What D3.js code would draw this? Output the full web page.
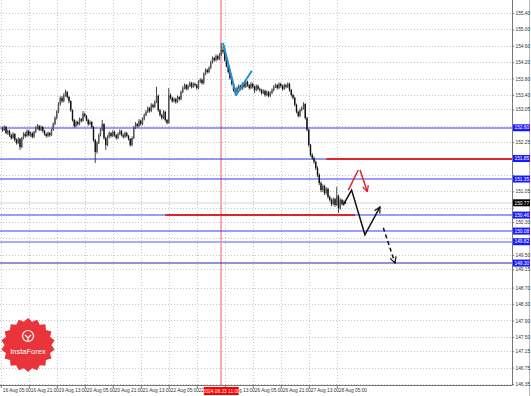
<!DOCTYPE html>
<html>
<head>
<meta charset="utf-8">
<script src="https://cdn.jsdelivr.net/npm/d3@7"></script>
<style>
  body { margin: 0; background: #fff; }
  svg { display: block; }
  text { font-family: "Liberation Sans", Arial, sans-serif; }
</style>
</head>
<body>
<div id="chart"></div>
<script>
// H1 bars, 16 Aug 06:00 .. 28 Aug
const opens = [152.58,152.55,152.62,152.47,152.52,152.42,152.35,152.45,152.30,152.23,
  152.33,152.13,152.35,152.45,152.40,152.52,152.42,152.47,152.38,152.50,
  152.60,152.64,152.55,152.62,152.52,152.45,152.40,152.47,152.42,152.55,
  152.69,152.84,152.99,153.18,153.33,153.25,153.40,153.47,153.35,153.25,
  153.03,152.79,152.64,152.74,152.69,152.81,152.77,152.94,152.89,152.79,
  152.69,152.74,152.62,152.30,152.01,152.23,152.42,152.55,152.69,152.35,
  152.18,152.38,152.47,152.40,152.50,152.42,152.35,152.45,152.52,152.42,
  152.38,152.47,152.40,152.33,152.18,152.35,152.60,152.69,152.64,152.77,
  152.69,152.81,152.91,152.99,153.08,153.01,153.16,153.11,153.23,153.38,
  153.03,152.91,152.84,152.99,152.79,152.72,153.40,153.33,153.25,153.30,
  153.23,153.35,153.30,153.47,153.57,153.64,153.55,153.62,153.69,153.60,
  153.67,153.64,153.57,153.72,153.77,153.69,153.91,154.01,153.96,154.06,
  154.20,154.30,154.25,154.35,154.28,154.38,154.50,154.45,154.25,154.11,
  153.96,153.81,153.67,153.52,153.45,153.57,153.62,153.55,153.67,153.60,
  153.72,153.64,153.57,153.67,153.60,153.52,153.62,153.55,153.52,153.45,
  153.50,153.40,153.47,153.38,153.45,153.52,153.60,153.64,153.57,153.67,
  153.62,153.55,153.64,153.60,153.67,153.52,153.40,153.33,153.16,152.99,
  152.89,153.03,153.08,153.18,152.84,152.55,152.18,151.94,151.86,151.77,
  151.62,151.45,151.25,151.08,151.18,151.01,151.11,150.91,150.84,150.74,
  150.86,150.72,150.94,150.64,150.84,150.74,150.79];
const highs = [152.63,152.66,152.65,152.56,152.55,152.46,152.49,152.47,152.34,152.37,
  152.35,152.38,152.49,152.50,152.56,152.55,152.51,152.50,152.53,152.64,
  152.69,152.67,152.66,152.64,152.55,152.48,152.51,152.50,152.58,152.73,
  152.88,153.03,153.22,153.37,153.38,153.44,153.53,153.50,153.38,153.27,
  153.05,152.82,152.78,152.77,152.85,152.84,153.01,152.97,152.91,152.82,
  152.78,152.76,152.64,152.33,152.27,152.46,152.59,152.79,152.71,152.38,
  152.42,152.51,152.50,152.54,152.53,152.45,152.49,152.56,152.55,152.46,
  152.51,152.50,152.43,152.35,152.39,152.64,152.74,152.72,152.81,152.80,
  152.85,152.95,153.03,153.12,153.11,153.20,153.19,153.27,153.60,153.41,
  153.06,152.94,153.03,153.01,152.82,153.57,153.44,153.36,153.34,153.33,
  153.39,153.38,153.51,153.61,153.68,153.67,153.66,153.73,153.72,153.71,
  153.70,153.67,153.76,153.81,153.80,153.95,154.05,154.04,154.10,154.24,
  154.34,154.33,154.39,154.38,154.42,154.67,154.58,154.48,154.28,154.14,
  153.99,153.84,153.70,153.56,153.61,153.66,153.65,153.71,153.70,153.76,
  153.75,153.67,153.71,153.70,153.63,153.66,153.65,153.58,153.55,153.54,
  153.53,153.51,153.50,153.49,153.56,153.64,153.68,153.67,153.71,153.70,
  153.65,153.68,153.67,153.71,153.70,153.55,153.43,153.36,153.19,153.02,
  153.07,153.12,153.22,153.20,152.87,152.58,152.21,151.98,151.90,151.80,
  151.66,151.49,151.29,151.22,151.21,151.15,151.14,150.95,150.88,150.90,
  150.89,151.16,150.97,150.88,150.87,150.83,150.82];
const lows = [152.50,152.52,152.44,152.43,152.38,152.31,152.33,152.26,152.19,152.20,
  152.06,152.10,152.32,152.36,152.37,152.39,152.38,152.34,152.35,152.47,
  152.56,152.52,152.52,152.48,152.41,152.36,152.37,152.38,152.40,152.52,
  152.66,152.80,152.96,153.14,153.21,153.22,153.36,153.31,153.20,152.99,
  152.75,152.60,152.61,152.65,152.66,152.73,152.75,152.85,152.75,152.65,
  152.66,152.58,152.26,151.74,151.97,152.20,152.39,152.52,152.31,152.06,
  152.15,152.34,152.36,152.37,152.38,152.31,152.32,152.42,152.39,152.34,
  152.35,152.37,152.29,152.14,152.15,152.32,152.57,152.60,152.61,152.65,
  152.66,152.78,152.88,152.96,152.97,152.98,153.07,153.08,153.20,152.99,
  152.87,152.80,152.81,152.75,152.68,152.70,153.29,153.21,153.22,153.19,
  153.20,153.26,153.27,153.44,153.54,153.51,153.52,153.59,153.56,153.57,
  153.60,153.53,153.54,153.69,153.65,153.66,153.88,153.92,153.93,154.03,
  154.17,154.21,154.22,154.24,154.25,154.35,154.40,154.21,154.07,153.92,
  153.77,153.63,153.48,153.41,153.42,153.54,153.51,153.52,153.56,153.57,
  153.60,153.53,153.54,153.56,153.45,153.49,153.51,153.48,153.41,153.42,
  153.36,153.37,153.34,153.35,153.42,153.49,153.57,153.53,153.54,153.58,
  153.51,153.52,153.56,153.57,153.48,153.36,153.29,153.12,152.95,152.85,
  152.86,153.00,153.05,152.80,152.51,152.14,151.90,151.82,151.72,151.57,
  151.40,151.20,151.03,151.04,150.96,150.97,150.87,150.80,150.69,150.71,
  150.67,150.69,150.52,150.60,150.70,150.70,150.74];
const closes = [152.55,152.62,152.47,152.52,152.42,152.35,152.45,152.30,152.23,152.33,
  152.13,152.35,152.45,152.40,152.52,152.42,152.47,152.38,152.50,152.60,
  152.64,152.55,152.62,152.52,152.45,152.40,152.47,152.42,152.55,152.69,
  152.84,152.99,153.18,153.33,153.25,153.40,153.47,153.35,153.25,153.03,
  152.79,152.64,152.74,152.69,152.81,152.77,152.94,152.89,152.79,152.69,
  152.74,152.62,152.30,152.01,152.23,152.42,152.55,152.69,152.35,152.18,
  152.38,152.47,152.40,152.50,152.42,152.35,152.45,152.52,152.42,152.38,
  152.47,152.40,152.33,152.18,152.35,152.60,152.69,152.64,152.77,152.69,
  152.81,152.91,152.99,153.08,153.01,153.16,153.11,153.23,153.38,153.03,
  152.91,152.84,152.99,152.79,152.72,153.40,153.33,153.25,153.30,153.23,
  153.35,153.30,153.47,153.57,153.64,153.55,153.62,153.69,153.60,153.67,
  153.64,153.57,153.72,153.77,153.69,153.91,154.01,153.96,154.06,154.20,
  154.30,154.25,154.35,154.28,154.38,154.50,154.45,154.25,154.11,153.96,
  153.81,153.67,153.52,153.45,153.57,153.62,153.55,153.67,153.60,153.72,
  153.64,153.57,153.67,153.60,153.52,153.62,153.55,153.52,153.45,153.50,
  153.40,153.47,153.38,153.45,153.52,153.60,153.64,153.57,153.67,153.62,
  153.55,153.64,153.60,153.67,153.52,153.40,153.33,153.16,152.99,152.89,
  153.03,153.08,153.18,152.84,152.55,152.18,151.94,151.86,151.77,151.62,
  151.45,151.25,151.08,151.18,151.01,151.11,150.91,150.84,150.74,150.86,
  150.72,150.94,150.64,150.84,150.74,150.79,150.77];

const priceTicks = [155.40,155.00,154.60,154.20,153.80,153.40,153.05,152.65,152.25,151.85,
  151.45,151.05,150.65,150.30,149.90,149.50,149.15,148.70,148.30,147.90,147.50,147.15,146.75,146.35];
const timeLabels = ["16 Aug 05:00","16 Aug 21:00","19 Aug 13:00","20 Aug 05:00","20 Aug 21:00",
  "21 Aug 13:00","22 Aug 05:00","22 Aug 21:00","23 Aug 13:00","26 Aug 05:00","26 Aug 21:00",
  "27 Aug 13:00","28 Aug 05:00"];
const timeIdx = [-1,15,31,47,63,79,95,111,127,143,159,175,191];

// horizontal levels (blue), red segments, bid
const blueLevels = [152.60,151.85,151.35,150.47,150.08,149.82,149.30];
const blueLabels = ["152.60","151.85","151.35","150.46","150.08","149.82","149.30"];
const redSegments = [{p:151.85, from:185, to:300}, {p:150.47, from:93, to:201.5}];
const bid = 150.77;
const markerIdx = 125, markerLabel = "2024.08.23 11:00";

// drawn forecast paths [barIndex, price]
const bluePath = [[126,154.67],[133.5,153.40],[142.5,153.99]];
const redUp = [[197.6,151.08],[203.3,151.57]];
const redDown = [[204.3,151.57],[208.5,151.04]];
const blackPath = [[194.7,150.72],[199.5,151.08],[207.1,149.99],[215.7,150.67]];
const blackDash = [[217.6,150.16],[224.3,149.30]];

const W = 531, H = 396;
const plotR = 512, plotB = 385;

const svg = d3.select("#chart").append("svg")
  .attr("width", W).attr("height", H);

const defs = svg.append("defs");
defs.append("clipPath").attr("id", "clip")
  .append("rect").attr("x", 0).attr("y", 0).attr("width", plotR).attr("height", plotB);
function arrow(id, color) {
  defs.append("marker").attr("id", id)
    .attr("viewBox", "0 0 10 10").attr("refX", 9).attr("refY", 5)
    .attr("markerWidth", 5).attr("markerHeight", 5).attr("orient", "auto")
    .append("path").attr("d", "M1,1 L9,5 L1,9").attr("fill", "none")
    .attr("stroke", color).attr("stroke-width", 1.6);
}
arrow("arRed", "#e0242c");
arrow("arBlack", "#111");

const x = d3.scaleLinear().domain([0, 196]).range([2.5, 2.5 + 196 * 1.75]);
const y = d3.scaleLinear().domain([146.35, 155.40]).range([384, 13]);

svg.append("rect").attr("width", W).attr("height", H).attr("fill", "#fff");

// grid
const grid = svg.append("g").attr("clip-path", "url(#clip)");
grid.selectAll(".hg").data(priceTicks).enter().append("line")
  .attr("x1", 0).attr("x2", plotR)
  .attr("y1", d => Math.round(y(d)) + 0.5).attr("y2", d => Math.round(y(d)) + 0.5)
  .attr("stroke", "#c8c8c8").attr("stroke-dasharray", "1,2");
grid.selectAll(".vg").data(timeIdx).enter().append("line")
  .attr("y1", 0).attr("y2", plotB)
  .attr("x1", d => Math.round(x(d)) + 0.5).attr("x2", d => Math.round(x(d)) + 0.5)
  .attr("stroke", "#c8c8c8").attr("stroke-dasharray", "1,2");

const plot = svg.append("g").attr("clip-path", "url(#clip)");

// marker vertical line
plot.append("line")
  .attr("x1", Math.round(x(markerIdx))).attr("x2", Math.round(x(markerIdx)))
  .attr("y1", 0).attr("y2", plotB)
  .attr("stroke", "#f06a6a").attr("stroke-width", 1.1);

// level lines
const levelColor = ["#3a3aff","#3a3aff","#3a3aff","#3a3aff","#3a3aff","#a8acff","#2828a8"];
plot.selectAll(".lvl").data(blueLevels).enter().append("line")
  .attr("class", "lvl")
  .attr("x1", 0).attr("x2", plotR)
  .attr("y1", d => Math.round(y(d))).attr("y2", d => Math.round(y(d)))
  .attr("stroke", (d, i) => levelColor[i])
  .attr("stroke-width", (d, i) => i === 5 ? 2.2 : 1.2);

plot.append("line")
  .attr("x1", 0).attr("x2", plotR)
  .attr("y1", Math.round(y(bid))).attr("y2", Math.round(y(bid)))
  .attr("stroke", "#d4d4d4").attr("stroke-width", 1.2);

plot.selectAll(".red").data(redSegments).enter().append("line")
  .attr("class", "red")
  .attr("x1", d => x(d.from)).attr("x2", d => x(d.to))
  .attr("y1", d => Math.round(y(d.p))).attr("y2", d => Math.round(y(d.p)))
  .attr("stroke", "#df2430").attr("stroke-width", 2);

// candles
const idx = d3.range(closes.length);
plot.selectAll(".wick").data(idx).enter().append("line")
  .attr("class", "wick")
  .attr("x1", i => x(i)).attr("x2", i => x(i))
  .attr("y1", i => y(highs[i])).attr("y2", i => y(lows[i]))
  .attr("stroke", "#333").attr("stroke-width", 0.9);
plot.selectAll(".candle").data(idx).enter().append("rect")
  .attr("class", "candle")
  .attr("x", i => x(i) - 0.7).attr("width", 1.4)
  .attr("y", i => y(Math.max(opens[i], closes[i])))
  .attr("height", i => Math.max(0.6, Math.abs(y(opens[i]) - y(closes[i]))))
  .attr("fill", i => closes[i] >= opens[i] ? "#555" : "#111");

// forecast drawings
const line = d3.line().x(d => x(d[0])).y(d => y(d[1]));
plot.append("path").attr("d", line(bluePath)).attr("fill", "none")
  .attr("stroke", "#1f8fd6").attr("stroke-width", 2).attr("stroke-linejoin", "round");
plot.append("path").attr("d", line(redUp)).attr("fill", "none")
  .attr("stroke", "#e0242c").attr("stroke-width", 1.5);
plot.append("path").attr("d", line(redDown)).attr("fill", "none")
  .attr("stroke", "#e0242c").attr("stroke-width", 1.5).attr("marker-end", "url(#arRed)");
plot.append("path").attr("d", line(blackPath)).attr("fill", "none")
  .attr("stroke", "#111").attr("stroke-width", 1.5).attr("marker-end", "url(#arBlack)");
plot.append("path").attr("d", line(blackDash)).attr("fill", "none")
  .attr("stroke", "#111").attr("stroke-width", 1.5).attr("stroke-dasharray", "4,3")
  .attr("marker-end", "url(#arBlack)");

// frame
svg.append("line").attr("x1", plotR + 0.5).attr("x2", plotR + 0.5).attr("y1", 0).attr("y2", plotB + 0.5)
  .attr("stroke", "#777");
svg.append("line").attr("x1", 0).attr("x2", plotR + 0.5).attr("y1", plotB + 0.5).attr("y2", plotB + 0.5)
  .attr("stroke", "#777");
svg.append("line").attr("x1", 529.5).attr("x2", 529.5).attr("y1", 0).attr("y2", H)
  .attr("stroke", "#bbb");

// price axis (labels hidden where a level box sits on top of them)
const boxed = blueLevels.concat([bid]);
const yAxis = svg.append("g").attr("transform", `translate(${plotR},0)`)
  .call(d3.axisRight(y).tickValues(priceTicks).tickFormat(d3.format(".2f")).tickSize(2).tickPadding(1.5));
yAxis.select(".domain").remove();
yAxis.selectAll("line").attr("stroke", "#777");
yAxis.selectAll("text").attr("font-size", 4.8).attr("fill", "#333")
  .attr("font-family", "Liberation Sans, Arial, sans-serif")
  .filter(d => boxed.some(b => Math.abs(y(b) - y(d)) < 5))
  .remove();

// time axis
const xAxis = svg.append("g").attr("transform", `translate(0,${plotB})`)
  .call(d3.axisBottom(x).tickValues(timeIdx).tickFormat((d, i) => timeLabels[i]).tickSize(3).tickPadding(1));
xAxis.select(".domain").remove();
xAxis.selectAll("line").attr("stroke", "#777");
xAxis.selectAll("text").attr("font-size", 4.8).attr("fill", "#333")
  .attr("text-anchor", "start").attr("dx", 1.5)
  .attr("font-family", "Liberation Sans, Arial, sans-serif");

// level labels on the price axis
const lab = svg.append("g");
blueLevels.forEach((p, i) => {
  const yy = y(p);
  lab.append("rect").attr("x", plotR + 1).attr("y", yy - 3.5).attr("width", 17).attr("height", 7)
    .attr("fill", "#1a1aff");
  lab.append("text").attr("x", plotR + 2.5).attr("y", yy + 1.7).attr("font-size", 4.8)
    .attr("fill", "#fff").text(blueLabels[i]);
});
lab.append("rect").attr("x", plotR + 1).attr("y", y(bid) - 3.5).attr("width", 17).attr("height", 7)
  .attr("fill", "#000");
lab.append("text").attr("x", plotR + 2.5).attr("y", y(bid) + 1.7).attr("font-size", 4.8)
  .attr("fill", "#fff").text(d3.format(".2f")(bid));

// marker label on time axis
const mx = x(markerIdx);
lab.append("rect").attr("x", mx - 17.5).attr("y", plotB + 2).attr("width", 35).attr("height", 8)
  .attr("fill", "#ff0000");
lab.append("text").attr("x", mx).attr("y", plotB + 7.8).attr("font-size", 4.8)
  .attr("text-anchor", "middle").attr("fill", "#fff").text(markerLabel);

// InstaForex badge
const cx = 28, cy = 345, nPts = 18;
const star = d3.range(nPts * 2).map(k => {
  const a = Math.PI * k / nPts;
  const r = k % 2 === 0 ? 27 : 23.5;
  return [cx + r * Math.sin(a), cy - r * Math.cos(a)];
});
const logo = svg.append("g");
logo.append("path").attr("d", "M" + star.join("L") + "Z").attr("fill", "#e8343a");
logo.append("circle").attr("cx", cx).attr("cy", cy - 9).attr("r", 5.5)
  .attr("fill", "none").attr("stroke", "#fff").attr("stroke-width", 1.2);
logo.append("path").attr("d", `M${cx - 3},${cy - 10} L${cx},${cy - 7} L${cx + 3},${cy - 10} M${cx},${cy - 7} L${cx},${cy - 4}`)
  .attr("stroke", "#fff").attr("stroke-width", 1.2).attr("fill", "none");
logo.append("text").attr("x", cx).attr("y", cy + 9).attr("text-anchor", "middle")
  .attr("font-size", 7.5).attr("fill", "#fff").text("InstaForex");
</script>
</body>
</html>
